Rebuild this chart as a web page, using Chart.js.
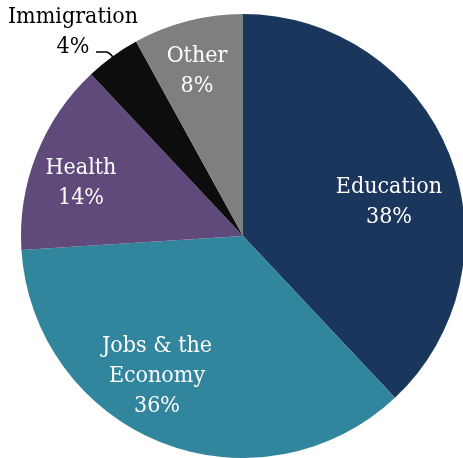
<!DOCTYPE html>
<html>
<head>
<meta charset="utf-8">
<script src="https://cdn.jsdelivr.net/npm/chart.js@4"></script>
<style>
  html, body { margin: 0; padding: 0; background: #fff; overflow: hidden; }
  #wrap { width: 486px; height: 458px; }
</style>
</head>
<body>
<div id="wrap"><canvas id="chart"></canvas></div>
<script>
"use strict";

const categories = ["Education", "Jobs & the Economy", "Health", "Immigration", "Other"];
const shares = [38, 36, 14, 4, 8];
const labelLines = [["Education"], ["Jobs & the", "Economy"], ["Health"], ["Immigration"], ["Other"]];
const colors = ["#1b365d", "#31859c", "#604a7b", "#0d0d0d", "#7f7f7f"];

// where each label sits, relative to the pie centre (pixels at r = 222)
const labelSpots = [
    { dx: 146, dy: -43, color: "#fff" },
    { dx: -86, dy: 116, color: "#fff" },
    { dx: -162, dy: -62, color: "#fff" },
    { dx: -170, dy: -213, color: "#000" },
    { dx: -46, dy: -174, color: "#fff" }
];

const sliceLabels = {
    id: "sliceLabels",
    afterDatasetsDraw(chart) {
        const ctx = chart.ctx;
        const arc = chart.getDatasetMeta(0).data[0];
        const cx = arc.x, cy = arc.y, k = arc.outerRadius / 222;
        ctx.save();
        ctx.font = "23px \"DejaVu Serif Condensed\"";
        ctx.textAlign = "center";
        ctx.textBaseline = "alphabetic";
        labelSpots.forEach((spot, i) => {
            const lines = labelLines[i].concat([shares[i] + "%"]);
            ctx.fillStyle = spot.color;
            lines.forEach((t, j) => {
                ctx.fillText(t, cx + spot.dx * k, cy + (spot.dy + j * 30) * k);
            });
        });
        // leader line for the small slice
        ctx.strokeStyle = "#000";
        ctx.lineWidth = 1.5;
        ctx.beginPath();
        ctx.moveTo(cx - 147 * k, cy - 184 * k);
        ctx.lineTo(cx - 136 * k, cy - 184 * k);
        ctx.quadraticCurveTo(cx - 133 * k, cy - 183 * k, cx - 130 * k, cy - 179 * k);
        ctx.stroke();
        ctx.restore();
    }
};

new Chart(document.getElementById("chart").getContext("2d"), {
    type: "pie",
    data: {
        labels: categories,
        datasets: [{
            data: shares,
            backgroundColor: colors,
            borderWidth: 0
        }]
    },
    options: {
        responsive: true,
        maintainAspectRatio: false,
        animation: false,
        layout: { padding: { top: 14, bottom: 0, left: 0, right: 0 } },
        plugins: {
            legend: { display: false },
            tooltip: { enabled: false }
        }
    },
    plugins: [sliceLabels]
});
</script>
</body>
</html>
